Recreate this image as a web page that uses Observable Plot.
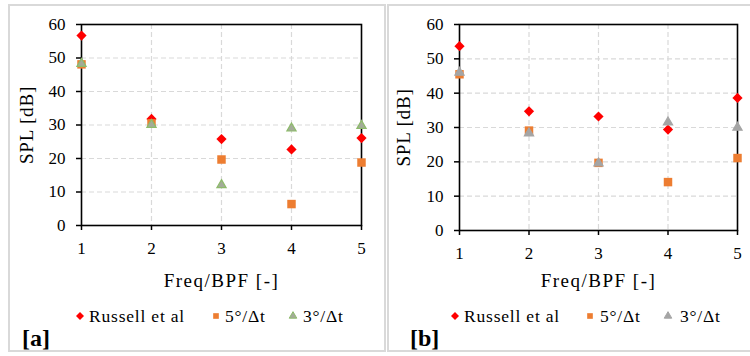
<!DOCTYPE html>
<html><head><meta charset="utf-8">
<script src="https://cdn.jsdelivr.net/npm/d3@7"></script>
<script src="https://cdn.jsdelivr.net/npm/@observablehq/plot@0.6"></script>
<style>
body{margin:0;background:#fff;width:750px;height:356px;overflow:hidden;position:relative;font-family:"Liberation Serif","Times New Roman",serif;}
.panel{position:absolute;box-sizing:border-box;border:2px solid #d9d9d9;top:4px;height:348px;}
.chart{position:absolute;top:0;}
.chart svg{overflow:visible;}
.chart g[aria-label="x-axis label"] text{font-size:19px;letter-spacing:1.5px;}
.chart g[aria-label="y-axis label"] text{font-size:19px;letter-spacing:0.8px;}
.leg{position:absolute;top:307px;font-size:17.5px;letter-spacing:0.8px;line-height:18px;color:#000;white-space:nowrap;}
.sym{position:absolute;top:310px;}
.tag{position:absolute;top:325px;font-size:24px;font-weight:bold;line-height:26px;color:#000;}
</style></head>
<body>
<script>
// Data
const freq = [1, 2, 3, 4, 5];
const yTicks = [0, 10, 20, 30, 40, 50, 60];
const seriesNames = ["Russell et al", "5°/Δt", "3°/Δt"];
const a_russell = [56.7, 31.8, 25.8, 22.7, 26.1];
const a_5deg   = [48.1, 30.5, 19.7, 6.4, 18.8];
const a_3deg   = [48.3, 30.1, 12.1, 29.0, 29.8];
const b_russell = [53.7, 34.7, 33.2, 29.4, 38.6];
const b_5deg   = [45.5, 29.1, 19.7, 14.1, 21.1];
const b_3deg   = [46.0, 28.3, 19.6, 31.5, 30.0];
const panelTags = ["[a]", "[b]"];

const styles = [
  {symbol: "diamond2", r: 4.6, fill: "#ff0000", stroke: "none"},
  {symbol: "square2", r: 5.4, fill: "#ed7d31", stroke: "none"},
  null
];
const tri = [
  {symbol: "triangle2", r: 4.4, fill: "#a3ab99", stroke: "#8dbb6a"},
  {symbol: "triangle2", r: 4.4, fill: "#a5a5a5", stroke: "#a5a5a5"}
];

const panels = [
  {left: 8, width: 378, svgLeft: 0, svgWidth: 385, mL: 81, mR: 24, mB: 75, xLO: 61, yLO: 62,
   data: [a_russell, a_5deg, a_3deg], leg: [80, 216, 293], legT: [89, 225, 303], tagX: 22},
  {left: 387, width: 380, svgLeft: 385, svgWidth: 365, mL: 74, mR: 13, mB: 70, xLO: 56, yLO: 63,
   data: [b_russell, b_5deg, b_3deg], leg: [455, 590, 668], legT: [464, 600, 680], tagX: 410}
];

function symPath(st, size) {
  const d3sym = {diamond2: d3.symbolDiamond2, square2: d3.symbolSquare2, triangle2: d3.symbolTriangle2}[st.symbol];
  return d3.symbol(d3sym, size)();
}

panels.forEach((p, pi) => {
  const box = document.createElement("div");
  box.className = "panel";
  box.style.left = p.left + "px";
  box.style.width = p.width + "px";
  document.body.appendChild(box);

  const st = [styles[0], styles[1], tri[pi]];
  const dotMarks = p.data.map((vals, si) => {
    const rows = freq.map((f, i) => ({f, v: vals[i]}));
    return Plot.dot(rows, {x: "f", y: "v", symbol: st[si].symbol, r: st[si].r,
      fill: st[si].fill, stroke: st[si].stroke, strokeWidth: 1.2});
  });

  const chart = Plot.plot({
    width: p.svgWidth, height: 300,
    marginLeft: p.mL, marginRight: p.mR, marginTop: 24, marginBottom: p.mB,
    style: {fontFamily: "Liberation Serif, Times New Roman, serif", fontSize: "17px", color: "#000", background: "transparent"},
    x: {domain: [1, 5]},
    y: {domain: [0, 60]},
    marks: [
      Plot.gridX(freq.slice(1, -1), {stroke: "#d9d9d9", strokeOpacity: 1, strokeDasharray: "5,3", strokeWidth: 1.2}),
      Plot.gridY(yTicks.slice(1, -1), {stroke: "#d9d9d9", strokeOpacity: 1, strokeDasharray: "5,3", strokeWidth: 1.2}),
      Plot.axisX(freq, {tickSize: 5, tickPadding: 11, strokeWidth: 1.5, label: "Freq/BPF [-]", labelAnchor: "center", labelOffset: p.xLO, labelArrow: "none"}),
      Plot.axisY(yTicks, {tickSize: 5, tickPadding: 11, strokeWidth: 1.5, label: "SPL [dB]", labelAnchor: "center", labelOffset: p.yLO, labelArrow: "none"}),
      Plot.frame({stroke: "#000", strokeWidth: 1.6}),
      ...dotMarks
    ]
  });
  const wrap = document.createElement("div");
  wrap.className = "chart";
  wrap.style.left = p.svgLeft + "px";
  wrap.appendChild(chart);
  document.body.appendChild(wrap);

  // legend
  seriesNames.forEach((name, si) => {
    const s = st[si];
    const size = Math.PI * 3.6 * 3.6;
    const svg = document.createElementNS("http://www.w3.org/2000/svg", "svg");
    svg.setAttribute("width", 12); svg.setAttribute("height", 12);
    svg.setAttribute("class", "sym");
    svg.style.left = (p.leg[si] - 6) + "px";
    const path = document.createElementNS("http://www.w3.org/2000/svg", "path");
    path.setAttribute("d", symPath(s, size));
    path.setAttribute("transform", "translate(6,6)");
    path.setAttribute("fill", s.fill);
    path.setAttribute("stroke", s.stroke);
    document.body.appendChild(svg);
    svg.appendChild(path);
    const t = document.createElement("div");
    t.className = "leg";
    t.style.left = p.legT[si] + "px";
    t.textContent = name;
    document.body.appendChild(t);
  });
  const tag = document.createElement("div");
  tag.className = "tag";
  tag.style.left = p.tagX + "px";
  tag.textContent = panelTags[pi];
  document.body.appendChild(tag);
});
</script>
</body></html>
